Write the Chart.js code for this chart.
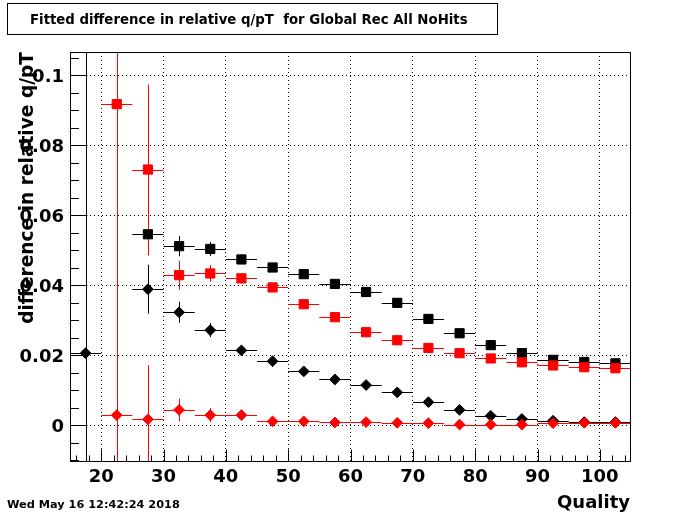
<!DOCTYPE html>
<html>
<head>
<meta charset="utf-8">
<script src="https://cdn.jsdelivr.net/npm/chart.js@4.4.0/dist/chart.umd.min.js"></script>
<style>
html, body { margin: 0; padding: 0; background: #fff; }
canvas { display: block; }
</style>
</head>
<body>
<canvas id="myChart" width="700" height="514"></canvas>
<script>
// bin centres (Quality), bin half width 2.5
var quality = [17.5, 22.5, 27.5, 32.5, 37.5, 42.5, 47.5, 52.5, 57.5, 62.5, 67.5, 72.5, 77.5, 82.5, 87.5, 92.5, 97.5, 102.5];
var binHalfWidth = 2.5;

var blackSquares    = [null, null, 0.0546, 0.0512, 0.0504, 0.0474, 0.0451, 0.0432, 0.0404, 0.0381, 0.0350, 0.0304, 0.0263, 0.0229, 0.0206, 0.0187, 0.0181, 0.0177];
var blackSquaresErr = [null, null, 0.0060, 0.0029, 0.0020, 0.0012, 0.0008, 0.0007, 0.0006, 0.0006, 0.0006, 0.0006, 0.0005, 0.0005, 0.0005, 0.0005, 0.0005, 0.0005];

var redSquares      = [null, 0.0918, 0.0731, 0.0429, 0.0434, 0.0420, 0.0394, 0.0346, 0.0309, 0.0266, 0.0243, 0.0221, 0.0206, 0.0191, 0.0180, 0.0171, 0.0166, 0.0163];
var redSquaresErr   = [null, 0.5000, 0.0243, 0.0041, 0.0024, 0.0015, 0.0008, 0.0007, 0.0006, 0.0006, 0.0006, 0.0006, 0.0005, 0.0005, 0.0005, 0.0005, 0.0005, 0.0005];

var blackDiamonds    = [0.0206, null, 0.0389, 0.0323, 0.0272, 0.0214, 0.0183, 0.0154, 0.0131, 0.0115, 0.0094, 0.0066, 0.0044, 0.0027, 0.0018, 0.0013, 0.0009, 0.0009];
var blackDiamondsErr = [0.5000, null, 0.0070, 0.0030, 0.0020, 0.0010, 0.0007, 0.0006, 0.0005, 0.0005, 0.0005, 0.0005, 0.0004, 0.0004, 0.0004, 0.0004, 0.0004, 0.0004];

var redDiamonds      = [null, 0.0029, 0.0017, 0.0044, 0.0029, 0.0029, 0.0011, 0.0011, 0.0008, 0.0009, 0.0007, 0.0006, 0.0002, 0.0002, 0.0002, 0.0006, 0.0007, 0.0007];
var redDiamondsErr   = [null, 0.5000, 0.0155, 0.0032, 0.0020, 0.0010, 0.0007, 0.0006, 0.0005, 0.0005, 0.0005, 0.0005, 0.0004, 0.0004, 0.0004, 0.0004, 0.0004, 0.0004];

var xTicks = [20, 30, 40, 50, 60, 70, 80, 90, 100];
var yTicks = [0, 0.02, 0.04, 0.06, 0.08, 0.1];
var yTickLabels = ['0', '0.02', '0.04', '0.06', '0.08', '0.1'];

var titleText = 'Fitted difference in relative q/pT  for Global Rec All NoHits';
var xTitle = 'Quality';
var yTitle = 'difference in relative q/pT';
var dateText = 'Wed May 16 12:42:24 2018';

function points(values, errors) {
    var out = [];
    for (var i = 0; i < quality.length; i++) {
        if (values[i] === null) continue;
        out.push({ x: quality[i], y: values[i], err: errors[i] });
    }
    return out;
}

function series(values, errors, color, shape, r) {
    return {
        data: points(values, errors),
        backgroundColor: color,
        borderColor: color,
        borderWidth: 1,
        pointStyle: shape,
        pointRadius: r,
        pointHoverRadius: r,
        showLine: false
    };
}

var FONT = '"DejaVu Sans", sans-serif';

// horizontal bin bars + vertical error bars, below the markers
var errorBars = {
    id: 'errorBars',
    beforeDatasetsDraw: function (chart) {
        var ctx = chart.ctx, xs = chart.scales.x, ys = chart.scales.y, a = chart.chartArea;
        ctx.save();
        ctx.beginPath();
        ctx.rect(a.left, a.top, a.right - a.left, a.bottom - a.top);
        ctx.clip();
        ctx.lineWidth = 1;
        var sets = chart.data.datasets.slice().reverse();
        sets.forEach(function (ds) {
            ctx.strokeStyle = ds.borderColor;
            ds.data.forEach(function (p) {
                var px = Math.round(xs.getPixelForValue(p.x)) + 0.5;
                var py = Math.round(ys.getPixelForValue(p.y)) + 0.5;
                ctx.beginPath();
                ctx.moveTo(xs.getPixelForValue(p.x - binHalfWidth), py);
                ctx.lineTo(xs.getPixelForValue(p.x + binHalfWidth), py);
                ctx.moveTo(px, ys.getPixelForValue(p.y - p.err));
                ctx.lineTo(px, ys.getPixelForValue(p.y + p.err));
                ctx.stroke();
            });
        });
        ctx.restore();
    }
};

// ROOT style frame, inward ticks and texts
var rootFrame = {
    id: 'rootFrame',
    beforeDraw: function (chart) {
        var ctx = chart.ctx;
        ctx.save();
        ctx.fillStyle = '#fff';
        ctx.fillRect(0, 0, chart.width, chart.height);
        ctx.restore();
    },
    afterDraw: function (chart) {
        var ctx = chart.ctx, xs = chart.scales.x, ys = chart.scales.y, a = chart.chartArea;
        ctx.save();
        ctx.strokeStyle = '#000';
        ctx.lineWidth = 1;
        var L = Math.round(a.left) + 0.5, R = Math.round(a.right) - 0.5;
        var T = Math.round(a.top) + 0.5, B = Math.round(a.bottom) - 0.5;
        ctx.strokeRect(L, T, R - L, B - T);

        ctx.beginPath();
        var v, p, major;
        // x ticks: major every 10, minor every 2
        for (v = 16; v <= 104; v += 2) {
            major = v % 10 === 0;
            p = Math.round(xs.getPixelForValue(v)) + 0.5;
            ctx.moveTo(p, B);
            ctx.lineTo(p, B - (major ? 12 : 6));
        }
        // y ticks: major every 0.02, minor every 0.005
        for (var k = -2; k <= 21; k++) {
            v = k * 0.005;
            major = k % 4 === 0;
            p = Math.round(ys.getPixelForValue(v)) + 0.5;
            if (p < T || p > B) continue;
            ctx.moveTo(L, p);
            ctx.lineTo(L + (major ? 17 : 8.5), p);
        }
        ctx.stroke();

        // title box
        ctx.fillStyle = '#fff';
        ctx.fillRect(7, 3, 490, 31);
        ctx.strokeRect(7.5, 3.5, 490, 31);
        ctx.fillStyle = '#000';
        ctx.font = 'bold 13.3px ' + FONT;
        ctx.textAlign = 'left';
        ctx.textBaseline = 'alphabetic';
        ctx.fillText(titleText, 30, 24);

        // date
        ctx.font = 'bold 11.3px ' + FONT;
        ctx.fillText(dateText, 7, 508);

        // x title
        ctx.font = 'bold 18px ' + FONT;
        ctx.textAlign = 'right';
        ctx.fillText(xTitle, 630, 508);

        // y title
        ctx.font = 'bold 18.6px ' + FONT;
        ctx.translate(33, 52);
        ctx.rotate(-Math.PI / 2);
        ctx.textAlign = 'right';
        ctx.fillText(yTitle, 0, 0);
        ctx.restore();
    }
};

var ctx = document.getElementById('myChart').getContext('2d');
var myChart = new Chart(ctx, {
    type: 'scatter',
    data: {
        datasets: [
            series(redSquares, redSquaresErr, '#ff0000', 'rect', 6.5),
            series(redDiamonds, redDiamondsErr, '#ff0000', 'rectRot', 5.4),
            series(blackSquares, blackSquaresErr, '#000000', 'rect', 6.5),
            series(blackDiamonds, blackDiamondsErr, '#000000', 'rectRot', 5.4)
        ]
    },
    options: {
        responsive: false,
        animation: false,
        devicePixelRatio: 1,
        layout: { padding: { top: 52, right: 69, left: 0, bottom: 0 } },
        plugins: {
            legend: { display: false },
            tooltip: { enabled: false },
            title: { display: false }
        },
        scales: {
            x: {
                type: 'linear',
                min: 15,
                max: 105,
                afterBuildTicks: function (s) {
                    s.ticks = xTicks.map(function (v) { return { value: v }; });
                },
                afterFit: function (s) { s.height = 52; },
                ticks: {
                    color: '#000',
                    padding: 5,
                    maxRotation: 0,
                    autoSkip: false,
                    font: { family: FONT, size: 18, weight: 'bold' }
                },
                grid: { color: '#000', lineWidth: 1, drawTicks: false },
                border: { display: false, dash: [1, 3] }
            },
            y: {
                type: 'linear',
                min: -0.0105,
                max: 0.1067,
                afterBuildTicks: function (s) {
                    s.ticks = yTicks.map(function (v) { return { value: v }; });
                },
                afterFit: function (s) { s.width = 70; },
                ticks: {
                    color: '#000',
                    padding: 6,
                    labelOffset: 2,
                    autoSkip: false,
                    font: { family: FONT, size: 18, weight: 'bold' },
                    callback: function (v, i) { return yTickLabels[i]; }
                },
                grid: { color: '#000', lineWidth: 1, drawTicks: false },
                border: { display: false, dash: [1, 3] }
            }
        }
    },
    plugins: [errorBars, rootFrame]
});
</script>
</body>
</html>
